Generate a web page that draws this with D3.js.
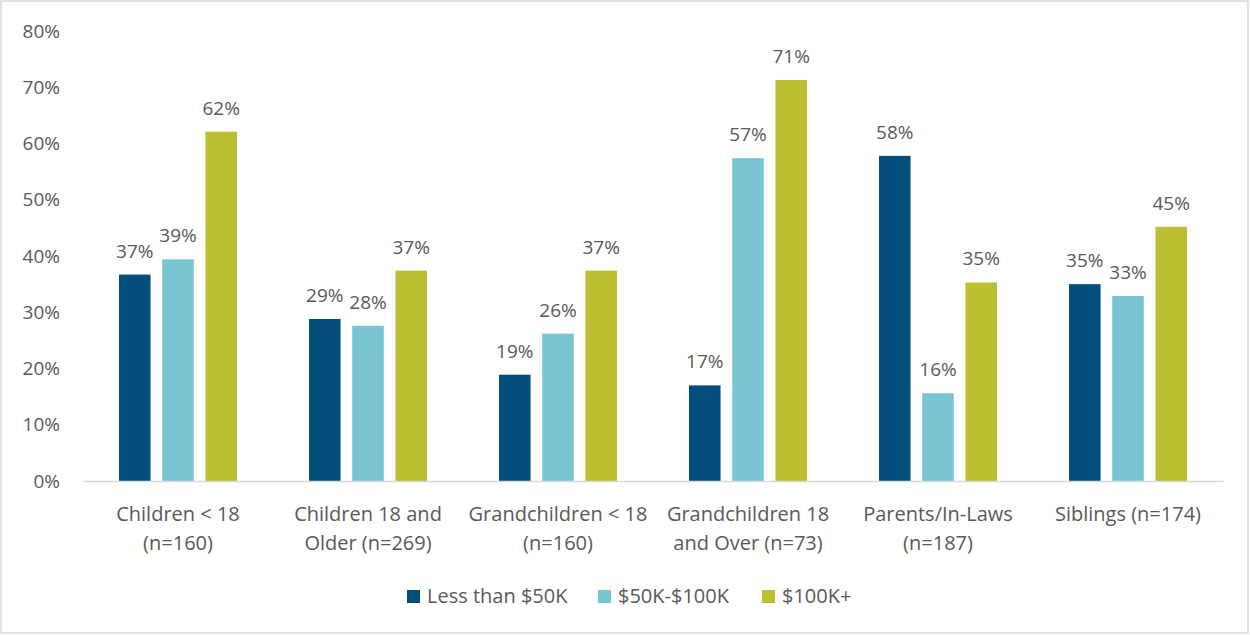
<!DOCTYPE html>
<html><head><meta charset="utf-8">
<script src="https://cdn.jsdelivr.net/npm/d3@7"></script>
<style>html,body{margin:0;padding:0;background:#fff;}svg{display:block;}</style>
</head><body>
<svg id="chart" width="1250" height="635"></svg>
<script>
const categories = [
  ["Children < 18", "(n=160)"],
  ["Children 18 and", "Older (n=269)"],
  ["Grandchildren < 18", "(n=160)"],
  ["Grandchildren 18", "and Over (n=73)"],
  ["Parents/In-Laws", "(n=187)"],
  ["Siblings (n=174)"]
];
const seriesNames = ["Less than $50K", "$50K-$100K", "$100K+"];
const lessThan50K = [36.7, 28.8, 18.9, 17.0, 57.8, 35.0];
const from50Kto100K = [39.4, 27.6, 26.2, 57.4, 15.6, 32.9];
const over100K = [62.1, 37.4, 37.4, 71.3, 35.3, 45.2];
const yTicks = [0, 10, 20, 30, 40, 50, 60, 70, 80];
const colors = ["#044E7C", "#7AC5D4", "#BDBF33"];

(function () {
const series = [lessThan50K, from50Kto100K, over100K];
const svg = d3.select("#chart");
const font = "'Open Sans', sans-serif";
const fs = 20;
const textColor = "#595959";

svg.append("rect").attr("x", 1).attr("y", 1).attr("width", 1247).attr("height", 632)
  .attr("fill", "#fff").attr("stroke", "#d9d9d9").attr("stroke-width", 1.5);

const mLeft = 83, mRight = 1223, mTop = 31, mBottom = 481;
const x0 = d3.scaleBand().domain(d3.range(categories.length)).range([mLeft, mRight]).paddingInner(0).paddingOuter(0);
const x1 = d3.scaleBand().domain(d3.range(3)).range([0, 118]).paddingInner(0.27);
const y = d3.scaleLinear().domain([0, 80]).range([mBottom, mTop]);

const yAxis = d3.axisLeft(y).tickValues(yTicks).tickFormat(d => d + "%").tickSize(0).tickPadding(0);
const yg = svg.append("g").attr("transform", `translate(60,0)`).call(yAxis);
yg.select(".domain").remove();
yg.selectAll("text").attr("font-family", font).attr("font-size", fs - 1).attr("fill", textColor);

const groups = svg.selectAll("g.grp").data(categories).enter().append("g")
  .attr("class", "grp")
  .attr("transform", (d, i) => `translate(${x0(i) + x0.bandwidth() / 2 - 59},0)`);

groups.each(function(cat, ci) {
  const g = d3.select(this);
  series.forEach((s, si) => {
    const v = s[ci];
    g.append("rect").attr("x", x1(si)).attr("y", y(v)).attr("width", x1.bandwidth())
      .attr("height", y(0) - y(v)).attr("fill", colors[si]);
    g.append("text").attr("x", x1(si) + x1.bandwidth() / 2).attr("y", y(v) - 17)
      .attr("text-anchor", "middle").attr("font-family", font).attr("font-size", fs - 1)
      .attr("fill", textColor).text(Math.round(v) + "%");
  });
});

const xAxis = d3.axisBottom(x0).tickSize(0).tickFormat("");
const xg = svg.append("g").attr("transform", `translate(0,${mBottom})`).call(xAxis);
xg.select(".domain").attr("stroke", "#d9d9d9").attr("stroke-width", 1.5);

categories.forEach((lines, i) => {
  const cx = x0(i) + x0.bandwidth() / 2;
  const t = svg.append("text").attr("text-anchor", "middle").attr("font-family", font)
    .attr("font-size", fs).attr("fill", textColor);
  lines.forEach((ln, li) => {
    t.append("tspan").attr("x", cx).attr("y", 521 + li * 29).text(ln);
  });
});

const legendItems = [
  {sx: 407, tx: 427},
  {sx: 598, tx: 618},
  {sx: 762, tx: 782}
];
seriesNames.forEach((name, i) => {
  svg.append("rect").attr("x", legendItems[i].sx).attr("y", 590).attr("width", 13).attr("height", 13).attr("fill", colors[i]);
  svg.append("text").attr("x", legendItems[i].tx).attr("y", 603).attr("font-family", font)
    .attr("font-size", fs).attr("fill", textColor).text(name);
});
})();
</script>
</body></html>
